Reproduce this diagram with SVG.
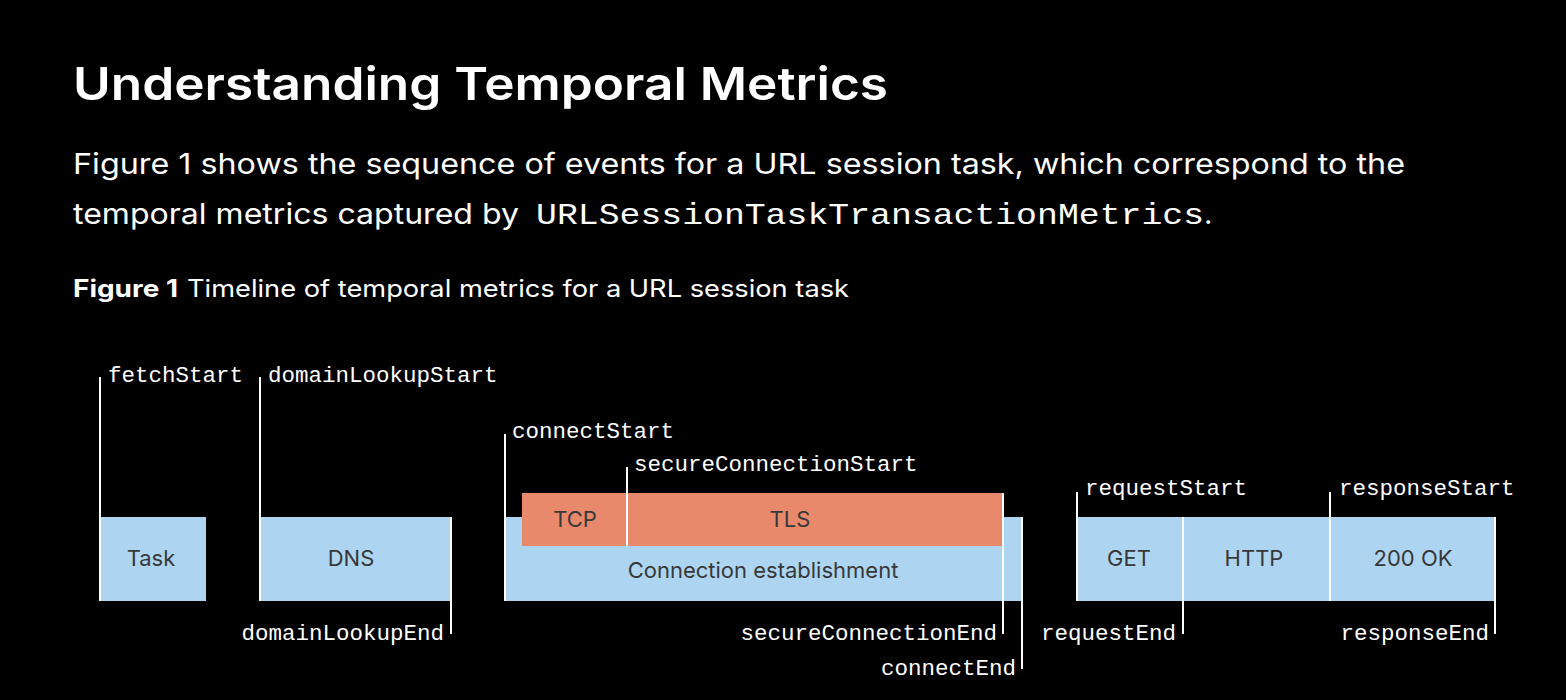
<svg xmlns="http://www.w3.org/2000/svg" width="1566" height="700" viewBox="0 0 1566 700">
<style>
.bg{fill:#000}
.blue{fill:#add5f2}
.orange{fill:#e8896b}
.tick{stroke:#fff;stroke-width:2;fill:none}
.lbl{font-family:"Liberation Mono",monospace;font-size:22.5px;fill:#fff}
.box{font-family:Inter,"Liberation Sans",Arial,sans-serif;font-size:22px;fill:#383838;text-anchor:middle}
.title{font-family:Inter,"Liberation Sans",Arial,sans-serif;font-size:45px;font-weight:600;fill:#fff}
.para{font-family:Inter,"Liberation Sans",Arial,sans-serif;font-size:29px;fill:#fff}
.mono{font-family:"Liberation Mono",monospace;font-size:29px;fill:#fff}
.cap{font-family:Inter,"Liberation Sans",Arial,sans-serif;font-size:24px;fill:#fff}
.end{text-anchor:end}
</style>
<rect class="bg" x="0" y="0" width="1566" height="700"/>
<text class="title" x="73" y="100" textLength="815" lengthAdjust="spacingAndGlyphs">Understanding Temporal Metrics</text>
<text class="para" x="73" y="174" textLength="1332" lengthAdjust="spacingAndGlyphs">Figure 1 shows the sequence of events for a URL session task, which correspond to the</text>
<text x="73" y="224"><tspan class="para" textLength="455" lengthAdjust="spacingAndGlyphs">temporal metrics captured by </tspan><tspan class="mono" x="536" textLength="668" lengthAdjust="spacingAndGlyphs">URLSessionTaskTransactionMetrics</tspan><tspan class="para">.</tspan></text>
<text y="297" class="cap"><tspan x="73" font-weight="bold" textLength="105" lengthAdjust="spacingAndGlyphs">Figure 1</tspan><tspan x="187" textLength="662" lengthAdjust="spacingAndGlyphs">Timeline of temporal metrics for a URL session task</tspan></text>

<g id="task">
<rect class="blue" x="99" y="517" width="107" height="84"/>
<text class="box" x="151" y="566">Task</text>
</g>
<g id="dns">
<rect class="blue" x="259" y="517" width="192" height="84"/>
<text class="box" x="351" y="566">DNS</text>
</g>
<g id="connection">
<rect class="blue" x="504" y="517" width="518" height="84"/>
<text class="box" x="763" y="578">Connection establishment</text>
</g>
<g id="tcp">
<rect class="orange" x="522" y="493" width="105" height="53"/>
<text class="box" x="575" y="527">TCP</text>
</g>
<g id="tls">
<rect class="orange" x="627" y="493" width="376" height="53"/>
<text class="box" x="790" y="527">TLS</text>
</g>
<g id="get">
<rect class="blue" x="1076" y="517" width="107" height="84"/>
<text class="box" x="1129" y="566">GET</text>
</g>
<g id="http">
<rect class="blue" x="1183" y="517" width="147" height="84"/>
<text class="box" x="1254" y="566">HTTP</text>
</g>
<g id="ok">
<rect class="blue" x="1330" y="517" width="166" height="84"/>
<text class="box" x="1413" y="566">200 OK</text>
</g>

<g id="connectors">
<line class="tick" x1="100" y1="377" x2="100" y2="601"/>
<line class="tick" x1="260" y1="377" x2="260" y2="601"/>
<line class="tick" x1="451" y1="517" x2="451" y2="634"/>
<line class="tick" x1="505" y1="434" x2="505" y2="601"/>
<line class="tick" x1="627" y1="467" x2="627" y2="546"/>
<line class="tick" x1="1003" y1="493" x2="1003" y2="634"/>
<line class="tick" x1="1022" y1="517" x2="1022" y2="669"/>
<line class="tick" x1="1077" y1="492" x2="1077" y2="601"/>
<line class="tick" x1="1183" y1="517" x2="1183" y2="634"/>
<line class="tick" x1="1330" y1="492" x2="1330" y2="601"/>
<line class="tick" x1="1495" y1="517" x2="1495" y2="634"/>
</g>

<g id="labels">
<text class="lbl" x="108" y="382">fetchStart</text>
<text class="lbl" x="268" y="382">domainLookupStart</text>
<text class="lbl end" x="444" y="640">domainLookupEnd</text>
<text class="lbl" x="512" y="438">connectStart</text>
<text class="lbl" x="634" y="471">secureConnectionStart</text>
<text class="lbl end" x="997" y="640">secureConnectionEnd</text>
<text class="lbl end" x="1016" y="675">connectEnd</text>
<text class="lbl" x="1085" y="495">requestStart</text>
<text class="lbl end" x="1176" y="640">requestEnd</text>
<text class="lbl" x="1339" y="495">responseStart</text>
<text class="lbl end" x="1489" y="640">responseEnd</text>
</g>
</svg>
